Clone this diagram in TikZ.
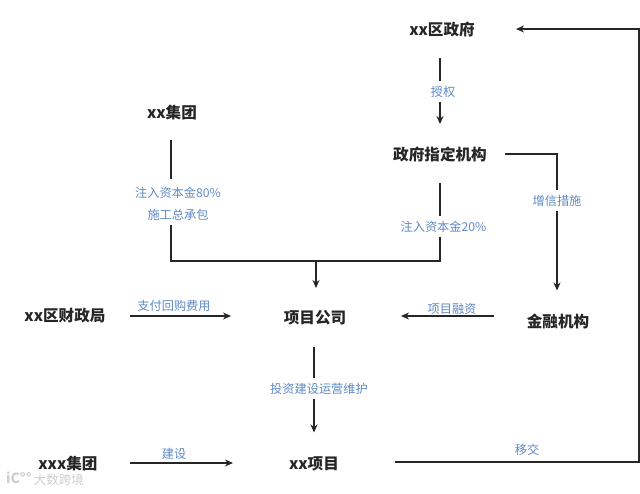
\documentclass[tikz,border=0pt]{standalone}
\usepackage{fontspec}
\setmainfont{Noto Sans CJK SC}
\usetikzlibrary{arrows.meta,calc}
\definecolor{labelblue}{HTML}{5F8AC4}
\definecolor{ink}{HTML}{262626}
\definecolor{wm}{HTML}{CFCFCF}
\tikzset{
  x=1pt,y=1pt,
  party/.style={font=\fontsize{15.6}{16}\selectfont\bfseries,text=ink,inner sep=0pt},
  flowlabel/.style={font=\fontsize{12.2}{13}\selectfont,text=labelblue,inner sep=0pt},
  flow/.style={draw=ink,line width=1.3pt,-{Stealth[length=8pt,width=7pt]}},
  plainflow/.style={draw=ink,line width=1.3pt},
  gapfill/.style={fill=white,inner ysep=5pt,inner xsep=1pt}
}
\begin{document}
\begin{tikzpicture}
\useasboundingbox (0,0) rectangle (640,-493);
\fill[white] (0,0) rectangle (640,-493);
% parties
\node[party] (gov) at (442,-30) {xx区政府};
\node[party] (org) at (440,-155) {政府指定机构};
\node[party] (grp) at (172,-112.5) {xx集团};
\node[party] (fin) at (65,-316) {xx区财政局};
\node[party] (co) at (315,-318) {项目公司};
\node[party] (bank) at (558,-321.5) {金融机构};
\node[party] (xxx) at (68,-464) {xxx集团};
\node[party] (prj) at (314,-463.5) {xx项目};
% routing points
\coordinate (join) at (316,-261);
\coordinate (orgturn) at (557,-154);
\coordinate (orgdown) at (440,-261);
\coordinate (grpdown) at (171,-261);
\coordinate (farb) at (639,-462);
\coordinate (fart) at (639,-29);
% connectors
\draw[flow] ([xshift=-2pt,yshift=-28pt]gov.center) -- ([yshift=31pt]org.center);
\draw[flow] ([xshift=65pt,yshift=1pt]org.center) -- (orgturn) -- ([yshift=31pt]bank.center-|orgturn);
\draw[plainflow] ([yshift=-28pt]org.center) -- (orgdown) -- (join);
\draw[plainflow] ([xshift=-1pt,yshift=-27pt]grp.center) -- (grpdown) -- (join);
\draw[flow] (join) -- ([xshift=1pt,yshift=30pt]co.center);
\draw[flow] ([xshift=65pt]fin.center) -- ([xshift=-84pt,yshift=2pt]co.center);
\draw[flow] ([xshift=-64pt,yshift=5.5pt]bank.center) -- ([xshift=86pt,yshift=2pt]co.center);
\draw[flow] ([xshift=-1pt,yshift=-29pt]co.center) -- ([yshift=31pt]prj.center);
\draw[flow] ([xshift=62pt,yshift=1pt]xxx.center) -- ([xshift=-81pt,yshift=.5pt]prj.center);
\draw[flow] ([xshift=81pt,yshift=1.5pt]prj.center) -- (farb) -- (fart) -- ([xshift=74pt,yshift=1pt]gov.center);
% labels on the lines
\node[flowlabel,gapfill] (l1) at (443,-91.5) {授权};
\node[flowlabel,gapfill] (l2) at (557,-200.5) {增信措施};
\node[flowlabel,gapfill] (l3) at (443.5,-226.5) {注入资本金20\%};
\node[flowlabel,gapfill,inner ysep=8pt] (l4) at (178,-192.5) {注入资本金80\%};
\node[flowlabel,gapfill] (l5) at (178,-214.5) {施工总承包};
\node[flowlabel,gapfill] (l6) at (319,-388.5) {投资建设运营维护};
% labels above the lines
\node[flowlabel] (l7) at (174,-305.5) {支付回购费用};
\node[flowlabel] (l8) at (452,-308.5) {项目融资};
\node[flowlabel] (l9) at (174,-453.5) {建设};
\node[flowlabel] (l10) at (527,-449.5) {移交};
% watermark
\node[font=\fontsize{12.5}{13}\selectfont,text=wm,inner sep=0pt] (wmtext) at (59,-480) {大数跨境};
\node[font=\fontsize{14}{14}\selectfont\bfseries,text=wm,inner sep=0pt] (wmlogo) at (19,-478) {iC°°};
\end{tikzpicture}
\end{document}
